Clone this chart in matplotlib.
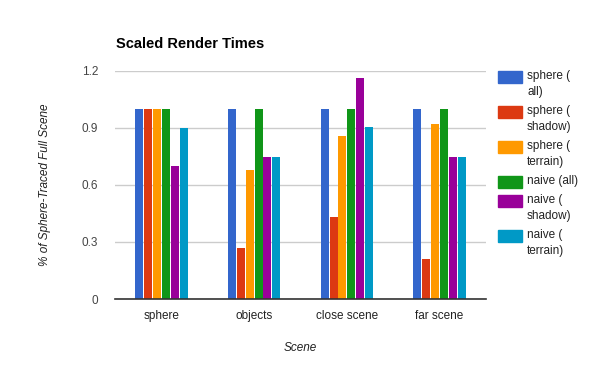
import matplotlib
matplotlib.use("Agg")
import matplotlib.pyplot as plt
import numpy as np
from matplotlib.patches import Rectangle

categories = ["sphere", "objects", "close scene", "far scene"]
series_names = ["sphere (\nall)", "sphere (\nshadow)", "sphere (\nterrain)",
                "naive (all)", "naive (\nshadow)", "naive (\nterrain)"]
sphere_all = [1.0, 1.0, 1.0, 1.0]
sphere_shadow = [1.0, 0.27, 0.43, 0.21]
sphere_terrain = [1.0, 0.68, 0.86, 0.92]
naive_all = [1.0, 1.0, 1.0, 1.0]
naive_shadow = [0.70, 0.745, 1.165, 0.745]
naive_terrain = [0.90, 0.745, 0.905, 0.745]
yticks = [0, 0.3, 0.6, 0.9, 1.2]
ytick_labels = ["0", "0.3", "0.6", "0.9", "1.2"]

series = [sphere_all, sphere_shadow, sphere_terrain, naive_all, naive_shadow, naive_terrain]
colors = ["#3366cc", "#dc3912", "#ff9900", "#109618", "#990099", "#0099c6"]

plt.rcParams['font.family'] = ['Liberation Sans', 'DejaVu Sans']

fig = plt.figure(figsize=(6, 3.71), dpi=100)
ax = fig.add_axes([115/600, 1 - 299/371, 371/600, 228/371])

n = len(series)
group_w = 0.575
slot = group_w / n
x = np.arange(len(categories))
for i, (vals, c) in enumerate(zip(series, colors)):
    off = -group_w/2 + slot*(i + 0.5)
    ax.bar(x + off, vals, width=slot*0.9, color=c, zorder=3)

ax.set_xlim(-0.5, len(categories) - 0.5)
ax.set_ylim(0, 1.2)
ax.set_yticks(yticks)
ax.set_yticklabels(ytick_labels)
ax.set_xticks(x)
ax.set_xticklabels(categories)
ax.grid(axis='y', color='#cccccc', linewidth=1, zorder=0)
for s in ['top', 'right', 'left']:
    ax.spines[s].set_visible(False)
ax.spines['bottom'].set_color('#333333')
ax.spines['bottom'].set_linewidth(1.2)
ax.spines['bottom'].set_zorder(4)
ax.tick_params(axis='both', length=0, labelsize=8.5)
ax.tick_params(axis='y', colors='#444444', pad=12)
ax.tick_params(axis='x', colors='#222222', pad=8)

ax.set_xlabel("Scene", fontstyle='italic', fontsize=8.5, color='#222222', labelpad=14)
ax.set_ylabel("% of Sphere-Traced Full Scene", fontstyle='italic', fontsize=8.5,
              color='#222222', labelpad=22)

fig.text(116/600, 1 - 44/371, "Scaled Render Times", fontsize=10.5, fontweight='bold',
         va='center', ha='left', color='#000000')

# legend drawn manually
y = 71
for name, c in zip(series_names, colors):
    fig.patches.append(Rectangle((498/600, 1 - (y + 12)/371), 24/600, 12/371,
                                 transform=fig.transFigure, color=c, figure=fig))
    fig.text(527/600, 1 - (y - 1)/371, name, fontsize=8.5, color='#222222',
             va='top', ha='left', linespacing=1.45)
    y += 35 if "\n" in name else 19

fig.savefig("out.png", dpi=100)
